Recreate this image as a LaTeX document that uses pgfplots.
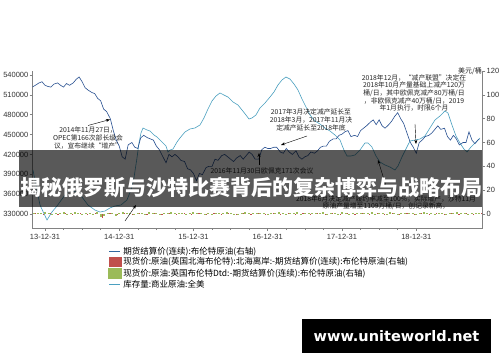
\documentclass[border=0pt]{standalone}
\usepackage{pgfplots}
\usepackage{pgfplotstable}
\pgfplotsset{compat=1.18}
\usetikzlibrary{arrows.meta}
\usepackage{fontspec}
\setmainfont{Liberation Sans}
\newfontfamily\cjk{Noto Sans CJK SC}
\newfontfamily\wm{DejaVu Sans}
\definecolor{brent}{RGB}{40,80,145}
\definecolor{inv}{RGB}{75,160,192}
\definecolor{sred}{RGB}{192,80,77}
\definecolor{sgreen}{RGB}{155,187,89}
\definecolor{axgray}{RGB}{130,130,130}

\pgfplotstableread{
t v
2013.838 396500
2013.933 343600
2014.027 320900
2014.094 333000
2014.162 342100
2014.269 358700
2014.337 366300
2014.404 364000
2014.498 355700
2014.579 343600
2014.673 336000
2014.741 333000
2014.808 334500
2014.875 339100
2014.943 342100
2015.023 343600
2015.104 351200
2015.158 366300
2015.198 384400
2015.239 414600
2015.266 437300
2015.293 452400
2015.320 460000
2015.374 457000
2015.414 455400
2015.468 449400
2015.508 446400
2015.549 441800
2015.589 437300
2015.629 432800
2015.656 423700
2015.683 426700
2015.724 428200
2015.778 438800
2015.818 444900
2015.885 453900
2015.953 458500
2016.020 460000
2016.087 464500
2016.141 475100
2016.195 488700
2016.249 500800
2016.303 508300
2016.357 512900
2016.410 509800
2016.464 506800
2016.532 499300
2016.599 494700
2016.653 487200
2016.707 479600
2016.747 473600
2016.787 475100
2016.841 479600
2016.895 490200
2016.963 497800
2017.030 506800
2017.084 514400
2017.138 525000
2017.191 532500
2017.245 537000
2017.299 534000
2017.353 526500
2017.407 517400
2017.461 503800
2017.515 491700
2017.569 479600
2017.636 470500
2017.703 466000
2017.770 460000
2017.838 455400
2017.905 449400
2017.973 441800
2018.026 426700
2018.067 417700
2018.121 417700
2018.175 419200
2018.242 426700
2018.309 437300
2018.350 437300
2018.403 431300
2018.457 417700
2018.511 408600
2018.578 404100
2018.646 401000
2018.713 396500
2018.754 402500
2018.807 416100
2018.861 428200
2018.915 440300
2018.982 441800
2019.050 443300
2019.117 447900
2019.184 460000
2019.252 472100
2019.319 478100
2019.386 485700
2019.427 482600
2019.481 464500
2019.535 447900
2019.588 437300
2019.642 428200
2019.683 423700
2019.737 431300
2019.790 437300
2019.831 441800
2019.858 444900
}\invtable

\pgfplotstableread{
t v
2013.83 106.5
2013.87 108
2013.92 110
2013.96 111
2014.00 108
2014.04 107
2014.08 106.5
2014.12 109
2014.17 110
2014.21 108
2014.25 106.5
2014.29 109.5
2014.33 108
2014.38 110
2014.42 113
2014.46 115
2014.50 111
2014.54 106
2014.58 104
2014.63 102
2014.67 101
2014.71 97
2014.75 95
2014.79 88
2014.83 86
2014.88 80
2014.92 70
2014.96 62
2015.00 57
2015.04 48
2015.08 46
2015.12 58
2015.17 60
2015.21 56
2015.25 55
2015.29 64
2015.33 66
2015.38 64
2015.42 63
2015.46 62
2015.50 57
2015.54 54
2015.58 49
2015.63 43
2015.67 50
2015.71 48
2015.75 50
2015.79 48
2015.83 45
2015.88 44
2015.92 38
2015.96 37
2016.00 34
2016.04 28
2016.08 34
2016.12 33
2016.17 39
2016.21 40
2016.25 40
2016.29 46
2016.33 45
2016.38 49
2016.42 50
2016.46 48
2016.50 46
2016.54 44
2016.58 47
2016.63 49
2016.67 46
2016.71 49
2016.75 52
2016.79 50
2016.83 46
2016.88 46
2016.92 54
2016.96 56
2017.00 55
2017.04 55
2017.08 56
2017.12 56
2017.17 52
2017.21 51
2017.25 55
2017.29 52
2017.33 50
2017.38 53
2017.42 48
2017.46 46
2017.50 48
2017.54 49
2017.58 52
2017.63 51
2017.67 53
2017.71 56
2017.75 57
2017.79 57
2017.83 61
2017.88 63
2017.92 63
2017.96 66
2018.00 67
2018.04 69
2018.08 70
2018.12 65
2018.17 66
2018.21 65
2018.25 70
2018.29 72
2018.33 74
2018.38 77
2018.42 79
2018.46 75
2018.50 79
2018.54 74
2018.58 72
2018.63 75
2018.67 78
2018.71 82
2018.75 85
2018.79 80
2018.83 76
2018.88 67
2018.92 60
2018.96 56
2019.00 51
2019.04 60
2019.08 62
2019.12 65
2019.17 66
2019.21 68
2019.25 71
2019.29 74
2019.33 71
2019.38 72
2019.42 65
2019.46 62
2019.50 66
2019.54 63
2019.58 58
2019.63 60
2019.67 60
2019.71 69
2019.75 62
2019.79 59
2019.83 62
2019.85 63
}\brenttable

\begin{document}
\begin{tikzpicture}
\useasboundingbox (0pt,0pt) rectangle (500pt,362pt);
\fill[white] (0pt,0pt) rectangle (500pt,362pt);

\pgfplotsset{
  base/.style={
    at={(32.5pt,134pt)}, anchor=south west,
    scale only axis, width=450pt, height=157pt,
    xmin=2013.832, xmax=2019.892,
    axis line style={draw=axgray, line width=0.5pt, -},
    tick style={draw=axgray, line width=0.5pt},
    tick align=outside, major tick length=3pt, minor tick length=2pt,
    ticklabel style={font=\fontsize{7.5}{8}\selectfont, text=black!80},
    /pgf/number format/assume math mode=true,
    /pgf/number format/fixed,
    /pgf/number format/1000 sep={},
    scaled ticks=false,
  }
}

\begin{axis}[base,
  ymin=308842, ymax=546116,
  axis y line*=left, axis x line*=bottom,
  xtick={2014,2015,2016,2017,2018,2019},
  minor x tick num=3,
  xticklabels={13-12-31,14-12-31,15-12-31,16-12-31,17-12-31,18-12-31},
  ytick={330000,360000,390000,420000,450000,480000,510000,540000},
  yticklabels={330000,360000,390000,420000,450000,480000,510000,540000},
  yticklabel style={inner sep=1pt},
]
\addplot[draw=inv, line width=0.6pt] table[x=t,y=v] {\invtable};
\end{axis}

\begin{axis}[base,
  ymin=-11.75, ymax=120,
  axis y line*=right, axis x line=none,
  xtick=\empty,
  ytick={0,20,40,60,80,100,120},
  yticklabels={0,20,40,60,80,100,120},
  yticklabel style={inner sep=1pt},
  legend style={at={(0.168,-0.115)}, anchor=north west, draw=none, fill=none,
    font=\cjk\fontsize{8.5}{9}\selectfont, inner sep=0pt, row sep=0.3pt,
    nodes={inner sep=1pt, text height=6.8pt, text depth=1.8pt}},
  legend cell align=left,
]
\addplot[draw=brent, line width=0.6pt,
  legend image code/.code={\draw[brent!70!inv, line width=0.8pt] (0pt,0pt) -- (11pt,0pt);}]
  table[x=t,y=v] {\brenttable};
\addplot[ycomb, draw=sred, line width=1.2pt,
  legend image code/.code={\fill[sred] (0pt,-4.4pt) rectangle (12pt,4.6pt);}]
  coordinates {
(2013.875,0.5) (2013.975,-0.8) (2014.075,1.0) (2014.175,-0.5) (2014.275,0.7)
(2014.375,-1.0) (2014.475,0.6) (2014.575,-0.7) (2014.675,0.9) (2014.775,-3.2)
(2014.875,0.8) (2014.975,-1.2) (2015.075,0.6) (2015.175,-0.9) (2015.275,1.0)
(2015.375,-0.6) (2015.475,0.7) (2015.575,-0.8) (2015.675,0.5) (2015.775,-1.0)
(2015.875,0.8) (2015.975,-0.6) (2016.075,0.9) (2016.175,-0.7) (2016.275,0.6)
(2016.375,-0.9) (2016.475,0.7) (2016.575,-0.5) (2016.675,1.0) (2016.775,-0.8)
(2016.875,0.6) (2016.975,-0.7) (2017.075,0.8) (2017.175,-0.6) (2017.275,0.9)
(2017.375,-1.0) (2017.475,0.5) (2017.575,-0.7) (2017.675,0.8) (2017.775,-0.6)
(2017.875,0.7) (2017.975,-0.9) (2018.075,0.6) (2018.175,-0.5) (2018.275,0.9)
(2018.375,-0.8) (2018.475,0.7) (2018.575,-0.6) (2018.675,1.0) (2018.775,-0.7)
(2018.875,0.5) (2018.975,-1.0) (2019.075,0.8) (2019.175,-0.6) (2019.275,0.7)
(2019.375,-0.9) (2019.475,0.6) (2019.575,-0.5) (2019.675,0.9) (2019.775,-0.7)
(2019.875,0.5)
};
\addplot[ycomb, draw=sgreen, line width=2pt,
  legend image code/.code={\fill[sgreen] (0pt,-4.4pt) rectangle (12pt,4.6pt);}]
  coordinates {
(2013.85,0.8) (2013.90,1.2) (2013.95,0.5) (2014.00,1.5) (2014.05,0.9)
(2014.10,-0.6) (2014.15,1.1) (2014.20,0.7) (2014.25,1.4) (2014.30,0.3)
(2014.35,1.0) (2014.40,1.6) (2014.45,0.6) (2014.50,-0.8) (2014.55,1.2)
(2014.60,0.9) (2014.65,0.4) (2014.70,1.3) (2014.75,-2.8) (2014.80,-1.5)
(2014.85,0.6) (2014.90,1.1) (2014.95,-2.0) (2015.00,0.9) (2015.05,1.4)
(2015.10,0.5) (2015.15,1.0) (2015.20,-0.7) (2015.25,1.2) (2015.30,0.8)
(2015.35,0.4) (2015.40,1.5) (2015.45,0.9) (2015.50,0.6) (2015.55,-1.0)
(2015.60,1.1) (2015.65,0.7) (2015.70,1.3) (2015.75,0.5) (2015.80,0.9)
(2015.85,1.2) (2015.90,-0.5) (2015.95,0.8) (2016.00,1.4) (2016.05,0.6)
(2016.10,1.0) (2016.15,0.3) (2016.20,1.2) (2016.25,-0.9) (2016.30,0.7)
(2016.35,1.1) (2016.40,0.5) (2016.45,1.3) (2016.50,0.8) (2016.55,0.4)
(2016.60,-0.6) (2016.65,1.0) (2016.70,1.4) (2016.75,0.7) (2016.80,0.9)
(2016.85,0.5) (2016.90,1.2) (2016.95,0.8) (2017.00,-1.2) (2017.05,1.1)
(2017.10,0.6) (2017.15,1.3) (2017.20,0.9) (2017.25,0.4) (2017.30,1.0)
(2017.35,0.7) (2017.40,1.5) (2017.45,-0.7) (2017.50,0.8) (2017.55,1.2)
(2017.60,0.5) (2017.65,1.0) (2017.70,0.6) (2017.75,1.3) (2017.80,-0.5)
(2017.85,0.9) (2017.90,1.1) (2017.95,0.4) (2018.00,1.4) (2018.05,0.7)
(2018.10,-1.0) (2018.15,1.0) (2018.20,0.6) (2018.25,1.2) (2018.30,0.8)
(2018.35,0.5) (2018.40,1.3) (2018.45,-0.8) (2018.50,0.9) (2018.55,1.1)
(2018.60,0.4) (2018.65,1.5) (2018.70,0.7) (2018.75,-0.6) (2018.80,1.0)
(2018.85,0.8) (2018.90,1.2) (2018.95,0.5) (2019.00,-1.1) (2019.05,0.9)
(2019.10,1.3) (2019.15,0.6) (2019.20,1.0) (2019.25,0.4) (2019.30,1.2)
(2019.35,0.7) (2019.40,-0.9) (2019.45,1.1) (2019.50,0.8) (2019.55,1.4)
(2019.60,0.5) (2019.65,0.9) (2019.70,-0.7) (2019.75,1.2) (2019.80,0.6)
(2019.85,0.8)
};
\addlegendimage{legend image code/.code={\draw[inv, line width=0.8pt] (0pt,0pt) -- (11pt,0pt);}}
\legend{期货结算价(连续):布伦特原油(右轴),
  现货价:原油(英国北海布伦特):北海离岸:-期货结算价(连续):布伦特原油(右轴),
  现货价:原油:英国布伦特Dtd:-期货结算价(连续):布伦特原油(右轴),
  库存量:商业原油:全美}
\end{axis}

\begin{scope}[x=1pt, y=-1pt, shift={(0pt,362pt)}]
\node[font=\cjk\fontsize{7}{7}\selectfont, text=black!85] at (470,71) {美元/桶};
\begin{scope}[font=\cjk\fontsize{6.8}{7.6}\selectfont, text=black!85]
\node[align=center] at (88,138) {2014年11月27日，\\OPEC第166次部长级会\\议，宣布继续“增产”};
\draw[-{Stealth[length=4pt,width=3pt]}, line width=0.4pt] (88,125.5) -- (110,119.5);
\node at (262,171) {2016年11月30日欧佩克171次会议};
\draw[-{Stealth[length=4pt,width=3pt]}, line width=0.4pt] (259,165) -- (259,153);
\node[align=center] at (311,120) {2017年3月决定减产延长至\\2018年3月，2017年11月决\\定减产延长至2018年底};
\draw[-{Stealth[length=4pt,width=3pt]}, line width=0.4pt] (307,136) -- (281,145);
\node[align=center] at (414,93) {2018年12月，“减产联盟”决定在\\2018年10月产量基础上减产120万\\桶/日，其中欧佩克减产80万桶/日\\，非欧佩克减产40万桶/日，2019\\年1月执行，时限6个月};
\draw[-{Stealth[length=4pt,width=3pt]}, line width=0.4pt] (415,124) -- (416,144);
\node[align=center] at (386,202.7) {2018年6月决定减产履约率减至100\%，实际增产，沙特11月\\原油产量增至1109万桶/日，创记录新高，};
\draw[-{Stealth[length=4pt,width=3pt]}, line width=0.4pt] (386,186) -- (378,160);
\draw[-{Stealth[length=4pt,width=3pt]}, line width=0.4pt] (125,221) -- (136,205);
\end{scope}
\fill[black, fill opacity=0.65] (19,150) rectangle (482,206.5);
\node[text=white, font=\cjk\bfseries\fontsize{21}{21}\selectfont] at (251,187.5) {揭秘俄罗斯与沙特比赛背后的复杂博弈与战略布局};
\fill[black] (302,319) rectangle (491,352.5);
\node[text=white, font=\wm\bfseries\fontsize{14.5}{14.5}\selectfont] at (396.5,336) {www.uniteworld.net};
\end{scope}
\end{tikzpicture}
\end{document}
